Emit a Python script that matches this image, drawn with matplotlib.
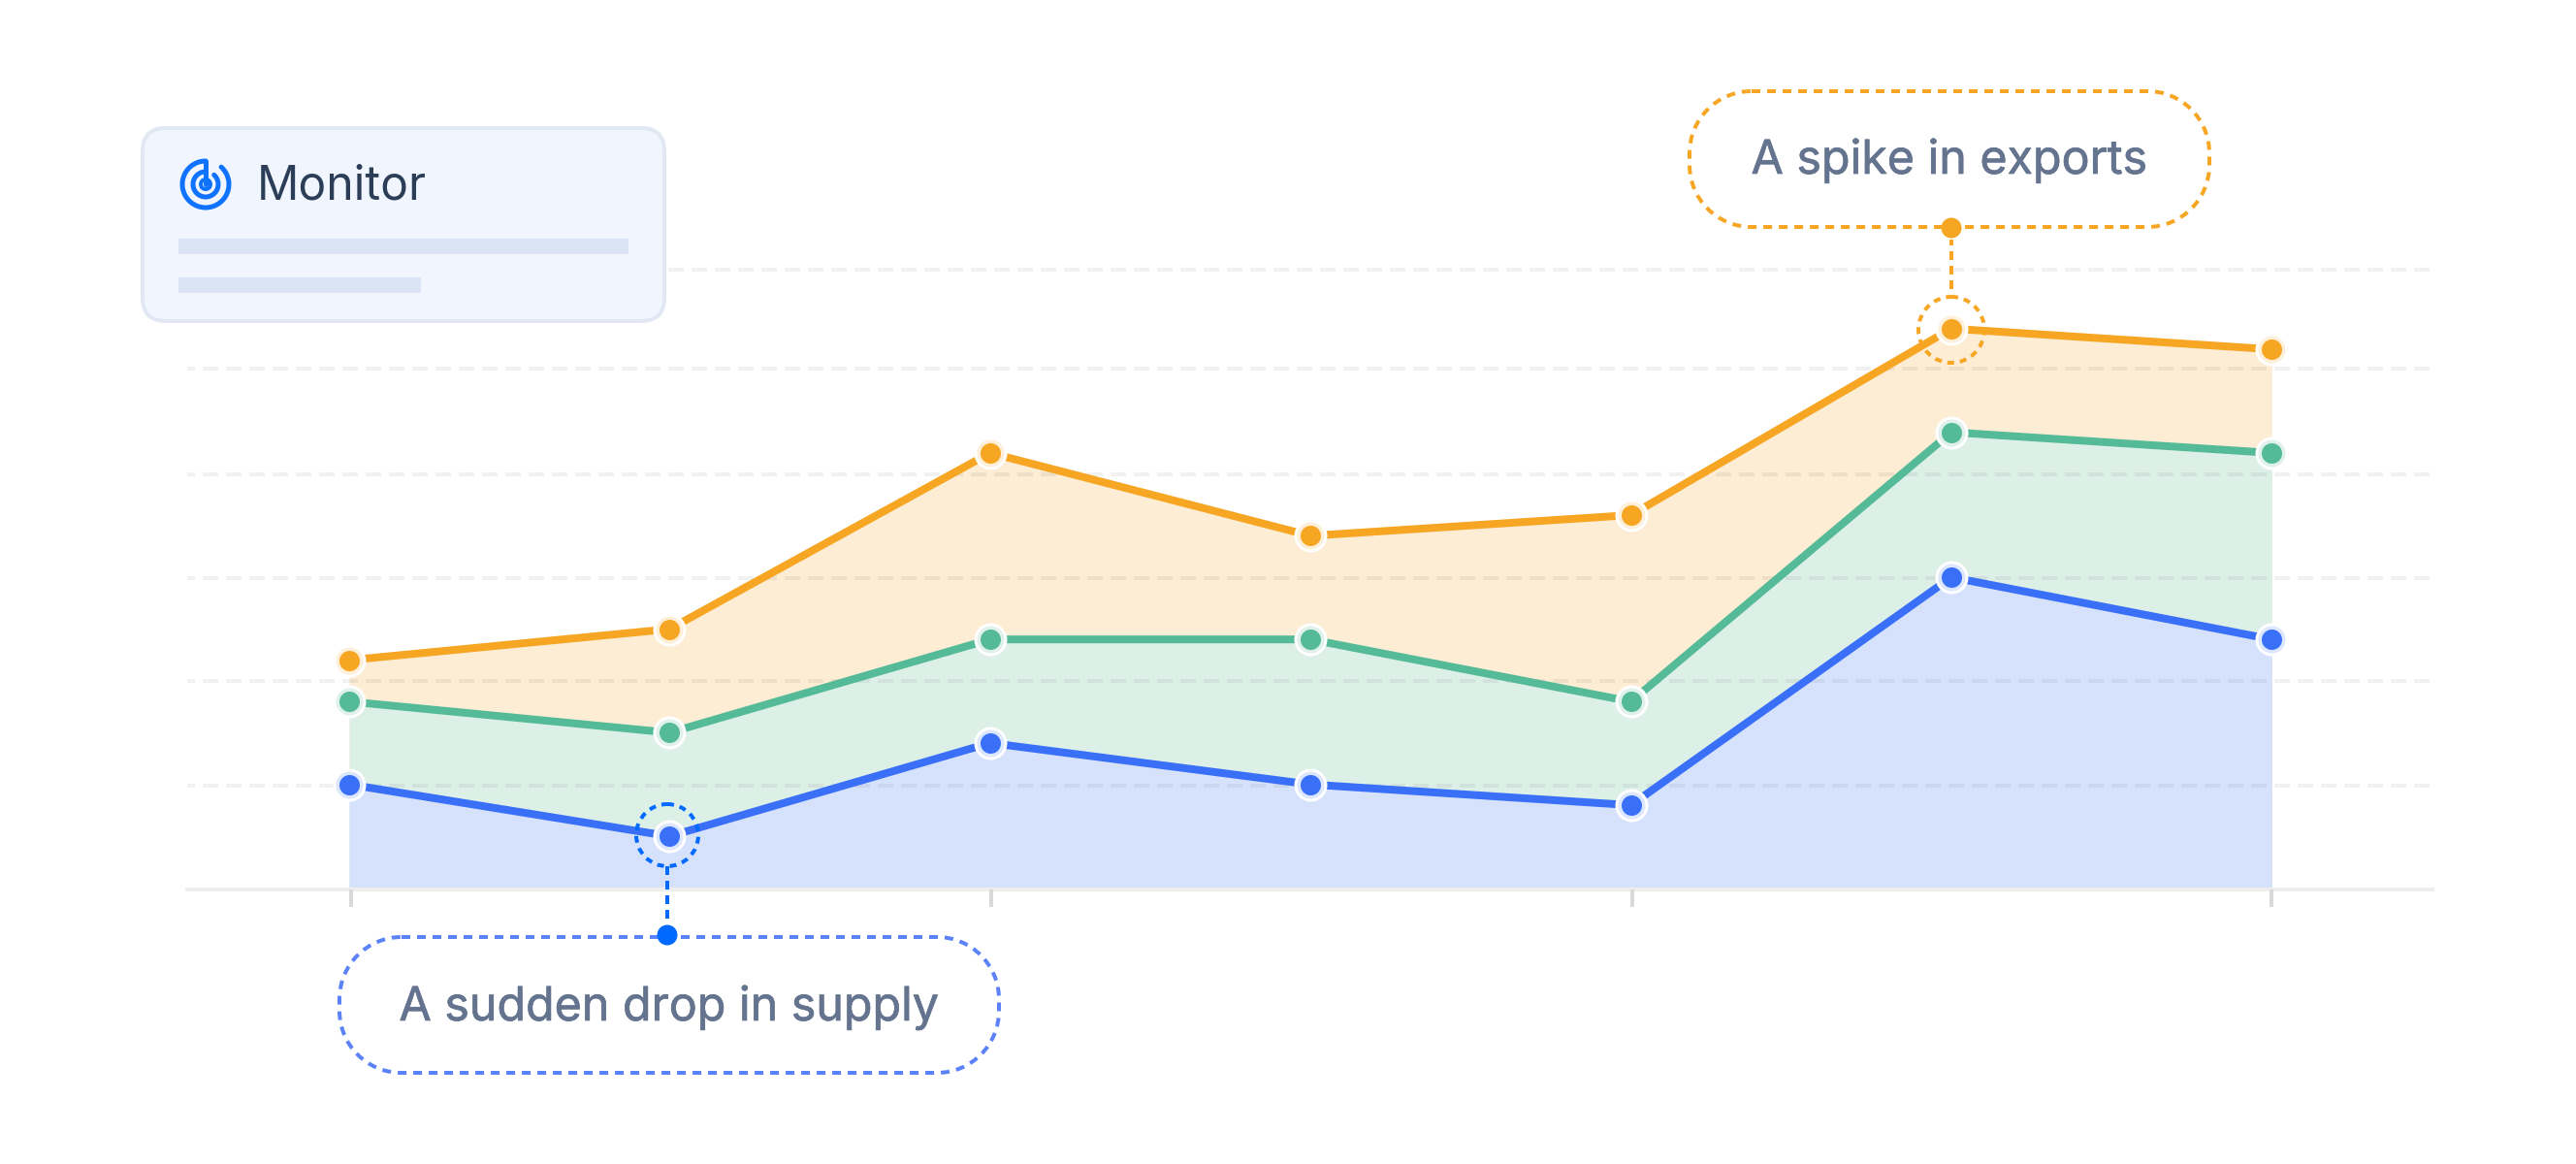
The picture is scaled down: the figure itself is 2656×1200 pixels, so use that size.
#!/usr/bin/env python3
"""Monitor area chart: stacked-looking areas with two dashed callouts."""

import matplotlib
matplotlib.use("Agg")
import matplotlib.pyplot as plt
import matplotlib.patheffects as pe
from matplotlib.patches import Arc, Circle, FancyBboxPatch, PathPatch, Rectangle
from matplotlib.path import Path

plt.rcParams["font.family"] = ["Inter", "DejaVu Sans"]
plt.rcParams["lines.scale_dashes"] = False

W, H = 2656, 1200
PX = 0.72   # one pixel in points at dpi=100

# ---- data ----
positions = [0, 1, 2, 3, 4, 5, 6]
supply    = [10, 5, 14, 10, 8, 30, 24]
demand    = [18, 15, 24, 24, 18, 44, 42]
exports   = [22, 25, 42, 34, 36, 54, 52]
grid_levels = [9.9, 20, 29.9, 39.9, 50.1, 59.7]
tick_positions = [0.006, 2.004, 4.003, 6]

card_title = "Monitor"
drop_label = "A sudden drop in supply"
spike_label = "A spike in exports"

ORANGE, GREEN, BLUE = "#F6A623", "#55BA98", "#3A6FF8"
ORANGE_FILL, GREEN_FILL, BLUE_FILL = "#FCEDD4", "#DDF0E8", "#D6E2FC"
ORANGE_HALO, GREEN_HALO, BLUE_HALO = "#FDEFD8", "#DFF1EA", "#DCE6FE"
CALLOUT_BLUE = "#0069FF"
PILL_BLUE = "#5B82F8"
TEXT_GREY = "#64748F"

# pixel layout of the chart axes
X_LEFT, X_RIGHT = 193, 2508
X0, X_STEP = 360, 330.4
Y_AXIS, Y_ZERO, Y_TOP = 917, 915.5, 200
Y_UNIT = 10.68


def px_line(ax, xs, ys, color, lw=3, dash=(8, 6), z=5):
    ax.plot(xs, ys, color=color, lw=lw * PX,
            ls=(0, (dash[0] * PX, dash[1] * PX)), zorder=z, dash_capstyle="butt")


def rounded_path(x0, y0, x1, y1, r):
    k = 0.5523 * r
    verts = [
        (x0 + r, y0), (x1 - r, y0),
        (x1 - r + k, y0), (x1, y0 + r - k), (x1, y0 + r),
        (x1, y1 - r),
        (x1, y1 - r + k), (x1 - r + k, y1), (x1 - r, y1),
        (x0 + r, y1),
        (x0 + r - k, y1), (x0, y1 - r + k), (x0, y1 - r),
        (x0, y0 + r),
        (x0, y0 + r - k), (x0 + r - k, y0), (x0 + r, y0),
    ]
    codes = [Path.MOVETO, Path.LINETO,
             Path.CURVE4, Path.CURVE4, Path.CURVE4,
             Path.LINETO,
             Path.CURVE4, Path.CURVE4, Path.CURVE4,
             Path.LINETO,
             Path.CURVE4, Path.CURVE4, Path.CURVE4,
             Path.LINETO,
             Path.CURVE4, Path.CURVE4, Path.CURVE4]
    return Path(verts, codes)


def pill(ax, x0, y0, x1, y1, color, label, text_y):
    ax.add_patch(PathPatch(rounded_path(x0, y0, x1, y1, 64),
                           fc="white", ec=color, lw=4 * PX,
                           ls=(0, (9 * PX, 7 * PX)), zorder=3))
    ax.text((x0 + x1) / 2, text_y, label, color=TEXT_GREY, fontsize=34.8,
            ha="center", va="baseline", zorder=6,
            path_effects=[pe.withStroke(linewidth=0.5, foreground=TEXT_GREY)])


def callout(ax, x, y_mark, y_a, y_b, y_dot, color, r):
    ax.add_patch(Circle((x, y_mark), r, fc="none", ec=color, lw=4 * PX,
                        ls=(0, (7 * PX, 6 * PX)), zorder=5))
    px_line(ax, [x, x], [y_a, y_b], color, lw=4, dash=(9, 6))
    ax.add_patch(Circle((x, y_dot), 10.5, fc=color, ec="none", zorder=6))


def monitor_icon(ax, cx, cy):
    # outer ring, inner ring and hub; y axis is flipped so angles run clockwise
    c = "#0F73FF"
    for r, start, end in [(24, -48, 270), (13, -48, 270)]:
        ax.add_patch(Arc((cx, cy), 2 * r, 2 * r, theta1=start, theta2=end,
                         ec=c, lw=5 * PX, zorder=4, capstyle="round"))
    ax.add_patch(Circle((cx, cy), 5, fc="none", ec=c, lw=4 * PX, zorder=4))
    ax.plot([cx, cx], [cy, cy - 24], color=c, lw=5 * PX,
            solid_capstyle="round", zorder=4)


def main():
    fig = plt.figure(figsize=(W / 100, H / 100), dpi=100, facecolor="white")

    # ---- chart axes ----
    ax = fig.add_axes([X_LEFT / W, 1 - Y_AXIS / H,
                       (X_RIGHT - X_LEFT) / W, (Y_AXIS - Y_TOP) / H])
    ax.set_xlim((X_LEFT - X0) / X_STEP, (X_RIGHT - X0) / X_STEP)
    ax.set_ylim((Y_ZERO - Y_AXIS) / Y_UNIT, (Y_ZERO - Y_TOP) / Y_UNIT)
    ax.patch.set_visible(False)
    for side in ["top", "right", "left"]:
        ax.spines[side].set_visible(False)
    ax.spines["bottom"].set_color("#EEEEEE")
    ax.spines["bottom"].set_linewidth(4 * PX)

    ax.fill_between(positions, 0, exports, color=ORANGE_FILL, lw=0, zorder=1)
    ax.fill_between(positions, 0, demand, color=GREEN_FILL, lw=0, zorder=1.1)
    ax.fill_between(positions, 0, supply, color=BLUE_FILL, lw=0, zorder=1.2)

    ax.set_yticks(grid_levels)
    ax.set_xticks(tick_positions)
    ax.tick_params(axis="y", length=0, labelleft=False)
    ax.tick_params(axis="x", length=18 * PX, width=4 * PX, color="#D9D9D9",
                   labelbottom=False)
    ax.set_axisbelow(False)
    ax.grid(axis="y", color="black", alpha=0.055, lw=4 * PX,
            ls=(8 * PX, (16 * PX, 8 * PX)))

    series = [(exports, ORANGE, ORANGE_HALO),
              (demand, GREEN, GREEN_HALO),
              (supply, BLUE, BLUE_HALO)]
    for i, (vals, colour, halo) in enumerate(series):
        z = 3 + i * 0.1
        ax.plot(positions, vals, color=colour, lw=8 * PX, zorder=z,
                solid_joinstyle="round")
        ax.plot(positions, vals, ls="none", marker="o", ms=34 * PX, mfc="white",
                mew=0, zorder=z, clip_on=False)
        ax.plot(positions, vals, ls="none", marker="o", ms=28 * PX, mfc=halo,
                mew=0, zorder=z, clip_on=False)
        ax.plot(positions, vals, ls="none", marker="o", ms=21 * PX, mfc=colour,
                mew=0, zorder=z, clip_on=False)

    # ---- overlay in pixel coordinates ----
    ov = fig.add_axes([0, 0, 1, 1])
    ov.set_xlim(0, W)
    ov.set_ylim(H, 0)
    ov.axis("off")

    # card
    ov.add_patch(FancyBboxPatch((169, 154), 494, 155,
                                boxstyle="round,pad=22,rounding_size=24",
                                fc="#F0F5FE", ec="#E2E8F3", lw=4 * PX, zorder=2))
    ov.add_patch(Rectangle((184, 246), 464, 16, fc="#DBE4F4", ec="none", zorder=3))
    ov.add_patch(Rectangle((184, 286), 250, 16, fc="#DBE4F4", ec="none", zorder=3))
    monitor_icon(ov, 212, 190)
    ov.text(265, 206, card_title, color="#2C3E57", fontsize=34.6,
            ha="left", va="baseline", zorder=4)

    # callouts
    pill(ov, 1742, 94, 2278, 234, ORANGE, spike_label, 179)
    callout(ov, 2012, 340, 298, 247, 235, ORANGE, 34)
    pill(ov, 350, 966, 1030, 1106, PILL_BLUE, drop_label, 1052)
    callout(ov, 688, 861, 893, 952, 964, CALLOUT_BLUE, 32)

    fig.savefig("out.png", dpi=100)
    plt.close(fig)


if __name__ == "__main__":
    main()
